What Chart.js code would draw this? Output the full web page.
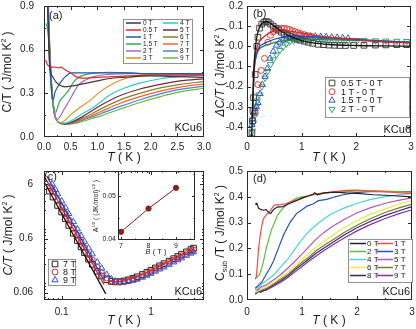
<!DOCTYPE html>
<html>
<head>
<meta charset="utf-8">
<script src="https://cdn.jsdelivr.net/npm/chart.js@4.4.0/dist/chart.umd.min.js"></script>
<style>
  html, body { margin: 0; padding: 0; background: #fff; }
  #wrap { position: relative; width: 416px; height: 329px; overflow: hidden; }
  canvas { position: absolute; }
</style>
</head>
<body>
<div id="wrap">
  <canvas id="pa" width="216" height="165" style="left:0;top:0"></canvas>
  <canvas id="pb" width="208" height="165" style="left:208px;top:0"></canvas>
  <canvas id="pc" width="216" height="164" style="left:0;top:165px"></canvas>
  <canvas id="pd" width="208" height="164" style="left:208px;top:165px"></canvas>
  <canvas id="pin" width="112" height="92" style="left:88px;top:166px"></canvas>
</div>
<script>
// ---- panel (a): C/T vs T, fields 0..9 T ----
const fieldsA = ['0 T', '0.5 T', '1 T', '1.5 T', '2 T', '3 T', '4 T', '5 T', '6 T', '7 T', '8 T', '9 T'];
const colorsA = ['#3a3a3a', '#e8262a', '#2456b8', '#2fa85a', '#a366cc', '#d9951f', '#2ec7c7', '#6e2a3e', '#8a7d2a', '#ff6030', '#4a84d0', '#6ab83a'];
const a0T = [[0.06,1.0],[0.08,0.75],[0.1,0.52],[0.13,0.44],[0.17,0.41],[0.22,0.38],[0.3,0.355],[0.4,0.345],[0.5,0.35],[0.6,0.355],[0.8,0.37],[1.0,0.385],[1.2,0.4],[1.5,0.41],[2.0,0.42],[2.5,0.415],[3.0,0.41]];
const a05T = [[0.03,0.53],[0.06,0.5],[0.1,0.485],[0.15,0.48],[0.2,0.48],[0.27,0.475],[0.32,0.48],[0.38,0.465],[0.45,0.45],[0.5,0.44],[0.6,0.415],[0.7,0.405],[0.8,0.405],[1.0,0.41],[1.3,0.415],[1.6,0.42],[2.0,0.425],[2.5,0.425],[3.0,0.425]];
const a1T = [[0.07,0.95],[0.1,0.6],[0.13,0.38],[0.16,0.27],[0.18,0.26],[0.2,0.3],[0.25,0.34],[0.3,0.37],[0.35,0.395],[0.4,0.415],[0.45,0.43],[0.5,0.44],[0.7,0.44],[1.0,0.44],[1.5,0.44],[2.0,0.435],[2.5,0.435],[3.0,0.435]];
const a15T = [[0.04,0.78],[0.08,0.7],[0.1,0.55],[0.13,0.35],[0.17,0.22],[0.22,0.17],[0.26,0.21],[0.3,0.25],[0.36,0.275],[0.46,0.32],[0.55,0.375],[0.65,0.41],[0.8,0.43],[1.0,0.44],[1.2,0.445],[1.6,0.44],[2.0,0.435],[2.5,0.435],[3.0,0.435]];
const a2T = [[0.06,1.0],[0.1,0.6],[0.15,0.3],[0.2,0.15],[0.25,0.12],[0.3,0.14],[0.36,0.18],[0.46,0.24],[0.55,0.3],[0.64,0.355],[0.77,0.39],[0.93,0.415],[1.2,0.43],[1.6,0.435],[2.0,0.435],[2.5,0.43],[3.0,0.43]];
const a3T = [[0.06,1.0],[0.1,0.6],[0.15,0.3],[0.2,0.15],[0.25,0.11],[0.3,0.1],[0.36,0.105],[0.49,0.15],[0.68,0.205],[0.86,0.25],[1.05,0.31],[1.24,0.355],[1.43,0.39],[1.68,0.415],[2.0,0.43],[2.5,0.435],[3.0,0.435]];
const a4T = [[0.06,1.05],[0.1,0.62],[0.15,0.3],[0.2,0.15],[0.25,0.11],[0.3,0.095],[0.4,0.095],[0.5,0.11],[0.7,0.155],[0.93,0.205],[1.24,0.29],[1.43,0.325],[1.8,0.37],[2.18,0.4],[2.55,0.415],[3.0,0.425]];
const a5T = [[0.06,1.05],[0.1,0.62],[0.15,0.3],[0.2,0.15],[0.25,0.11],[0.3,0.095],[0.4,0.09],[0.5,0.1],[0.7,0.135],[0.9,0.18],[1.05,0.215],[1.43,0.285],[1.8,0.33],[2.18,0.362],[2.55,0.385],[3.0,0.4]];
const a6T = [[0.06,1.1],[0.1,0.65],[0.15,0.31],[0.2,0.155],[0.25,0.11],[0.3,0.095],[0.4,0.09],[0.5,0.095],[0.7,0.125],[0.9,0.16],[1.05,0.19],[1.43,0.255],[1.8,0.3],[2.18,0.337],[2.55,0.362],[3.0,0.38]];
const a7T = [[0.06,1.1],[0.1,0.66],[0.15,0.31],[0.2,0.155],[0.25,0.11],[0.3,0.095],[0.4,0.09],[0.5,0.093],[0.7,0.118],[0.9,0.148],[1.05,0.172],[1.43,0.232],[1.8,0.277],[2.18,0.315],[2.55,0.343],[3.0,0.365]];
const a8T = [[0.06,1.15],[0.1,0.68],[0.15,0.32],[0.2,0.16],[0.25,0.11],[0.3,0.095],[0.4,0.09],[0.5,0.092],[0.7,0.112],[0.9,0.138],[1.05,0.158],[1.43,0.21],[1.8,0.256],[2.18,0.296],[2.55,0.327],[3.0,0.35]];
const a9T = [[0.06,1.2],[0.1,0.7],[0.15,0.33],[0.2,0.16],[0.25,0.11],[0.3,0.095],[0.4,0.09],[0.5,0.09],[0.7,0.105],[0.9,0.127],[1.05,0.143],[1.43,0.192],[1.8,0.237],[2.18,0.277],[2.55,0.31],[3.0,0.335]];
const curvesA = [a0T, a05T, a1T, a15T, a2T, a3T, a4T, a5T, a6T, a7T, a8T, a9T];
const xTicksA = [0, 0.5, 1, 1.5, 2, 2.5, 3];
const yTicksA = [0, 0.3, 0.6, 0.9];

// ---- panel (b): difference curves, symbols = data, lines = fits ----
const labelsB = ['0.5 T - 0 T', '1 T - 0 T', '1.5 T - 0 T', '2 T - 0 T'];
const b05 = [[0.09,-0.43],[0.1,-0.37],[0.11,-0.32],[0.12,-0.255],[0.15,-0.14],[0.18,0.0],[0.2,0.045],[0.23,0.09],[0.27,0.11],[0.31,0.12],[0.35,0.123],[0.39,0.12],[0.43,0.11],[0.48,0.1],[0.53,0.09],[0.58,0.08],[0.63,0.07],[0.68,0.062],[0.74,0.055],[0.8,0.048],[0.86,0.04],[0.92,0.035],[0.98,0.03],[1.05,0.025],[1.12,0.02],[1.2,0.015],[1.3,0.01],[1.4,0.008],[1.5,0.006],[1.6,0.005],[1.7,0.004],[1.8,0.004],[1.95,0.004],[2.14,0.005],[2.35,0.006],[2.54,0.007],[2.74,0.008],[2.92,0.008]];
const b1 = [[0.15,-0.33],[0.2,-0.19],[0.26,-0.12],[0.32,-0.06],[0.38,0.02],[0.43,0.055],[0.48,0.072],[0.53,0.082],[0.58,0.088],[0.63,0.09],[0.68,0.089],[0.73,0.087],[0.78,0.083],[0.83,0.078],[0.88,0.073],[0.93,0.068],[0.98,0.063],[1.04,0.058],[1.1,0.054],[1.17,0.05]];
const b15 = [[0.08,-0.45],[0.09,-0.39],[0.1,-0.36],[0.12,-0.33],[0.15,-0.31],[0.17,-0.3],[0.2,-0.28],[0.24,-0.235],[0.28,-0.19],[0.33,-0.15],[0.37,-0.11],[0.42,-0.06],[0.48,-0.025],[0.54,0.005],[0.6,0.02],[0.66,0.03],[0.72,0.038],[0.78,0.043],[0.85,0.046],[0.92,0.048],[1.0,0.05],[1.08,0.05],[1.16,0.05],[1.25,0.05],[1.35,0.048],[1.45,0.047],[1.55,0.045],[1.65,0.044],[1.75,0.042],[1.85,0.04]];
const b2 = [[0.1,-0.42],[0.12,-0.38],[0.15,-0.34],[0.17,-0.3],[0.19,-0.27],[0.22,-0.24],[0.27,-0.2],[0.33,-0.157],[0.38,-0.124],[0.43,-0.09],[0.48,-0.066],[0.54,-0.042],[0.6,-0.02],[0.66,-0.003],[0.72,0.012],[0.78,0.022],[0.85,0.028],[0.92,0.032],[1.0,0.034],[1.1,0.035],[1.2,0.035],[1.3,0.034],[1.4,0.033],[1.5,0.032],[1.6,0.031],[1.7,0.03],[1.8,0.03],[1.9,0.03],[2.02,0.03],[2.14,0.03],[2.35,0.028],[2.54,0.027],[2.74,0.026],[2.92,0.025]];
const fit05 = [[0.085,-0.45],[0.1,-0.3],[0.12,-0.15],[0.14,-0.05],[0.17,0.03],[0.2,0.07],[0.25,0.105],[0.3,0.12],[0.35,0.123],[0.4,0.118],[0.5,0.1],[0.6,0.08],[0.7,0.062],[0.8,0.048],[0.9,0.037],[1.0,0.028],[1.2,0.017],[1.5,0.009],[2.0,0.004],[2.5,0.002],[3.0,0.001]];
const fit1 = [[0.1,-0.35],[0.13,-0.1],[0.17,-0.02],[0.22,0.02],[0.3,0.045],[0.4,0.065],[0.5,0.078],[0.6,0.082],[0.7,0.08],[0.8,0.075],[1.0,0.065],[1.2,0.055],[1.5,0.045],[2.0,0.032],[2.5,0.022],[3.0,0.016]];
const fit15 = [[0.1,-0.35],[0.13,-0.12],[0.17,-0.04],[0.22,-0.005],[0.3,0.012],[0.4,0.025],[0.5,0.035],[0.6,0.042],[0.7,0.047],[0.85,0.05],[1.0,0.05],[1.2,0.048],[1.5,0.043],[2.0,0.035],[2.5,0.027],[3.0,0.02]];
const fit2 = [[0.1,-0.35],[0.13,-0.13],[0.17,-0.05],[0.22,-0.015],[0.3,0.0],[0.4,0.01],[0.5,0.018],[0.6,0.024],[0.7,0.028],[0.85,0.031],[1.0,0.033],[1.3,0.033],[1.6,0.032],[2.0,0.03],[2.5,0.025],[3.0,0.02]];
const xTicksB = [0, 1, 2, 3];
const yTicksB = [-0.4, -0.3, -0.2, -0.1, 0, 0.1, 0.2];

// ---- panel (c): log-log, 7/8/9 T ----
const c7T = [[0.073,4.5],[0.08,3.5],[0.09,2.45],[0.1,1.85],[0.11,1.4],[0.12,1.05],[0.135,0.75],[0.15,0.55],[0.165,0.42],[0.18,0.33],[0.2,0.25],[0.22,0.2],[0.25,0.15],[0.28,0.122],[0.32,0.104],[0.36,0.097],[0.4,0.095],[0.45,0.096],[0.5,0.099],[0.56,0.104],[0.63,0.111],[0.7,0.118],[0.8,0.13],[0.9,0.143],[1.0,0.156],[1.12,0.172],[1.25,0.188],[1.4,0.206],[1.6,0.23],[1.8,0.255],[2.0,0.28],[2.2,0.305],[2.5,0.34],[2.8,0.375],[3.0,0.4]];
const c8T = [[0.075,5.3],[0.08,4.4],[0.09,3.05],[0.1,2.25],[0.11,1.72],[0.12,1.32],[0.135,0.93],[0.15,0.69],[0.165,0.52],[0.18,0.41],[0.2,0.305],[0.22,0.24],[0.25,0.175],[0.28,0.14],[0.32,0.112],[0.36,0.1],[0.4,0.095],[0.45,0.094],[0.5,0.096],[0.56,0.1],[0.63,0.106],[0.7,0.112],[0.8,0.123],[0.9,0.135],[1.0,0.147],[1.12,0.162],[1.25,0.177],[1.4,0.194],[1.6,0.217],[1.8,0.24],[2.0,0.263],[2.2,0.286],[2.5,0.318],[2.8,0.35],[3.0,0.37]];
const c9T = [[0.078,6.1],[0.085,4.8],[0.09,4.0],[0.1,2.95],[0.11,2.25],[0.12,1.72],[0.135,1.22],[0.15,0.9],[0.165,0.68],[0.18,0.53],[0.2,0.4],[0.22,0.31],[0.25,0.22],[0.28,0.17],[0.32,0.13],[0.36,0.108],[0.4,0.098],[0.45,0.094],[0.5,0.094],[0.56,0.097],[0.63,0.101],[0.7,0.106],[0.8,0.115],[0.9,0.125],[1.0,0.136],[1.12,0.149],[1.25,0.163],[1.4,0.178],[1.6,0.199],[1.8,0.22],[2.0,0.241],[2.2,0.262],[2.5,0.292],[2.8,0.32],[3.0,0.34]];
const c7Fit = [[0.065,6.3],[0.312,0.057]];
const c8Fit = [[0.066,7.7],[0.297,0.085]];
const c9Fit = [[0.068,8.6],[0.29,0.11]];
const c8High = [[0.33,0.1],[0.4,0.095],[0.5,0.099],[0.7,0.118],[1.0,0.155],[1.4,0.205],[2.0,0.275],[2.5,0.33],[3.0,0.38]];
const xTicksC = [0.1, 1];
const yTicksC = [0.06, 0.6, 6];

// ---- inset of (c): A^1/2 vs B ----
const insetB = [7, 8, 9];
const insetA = [0.0417, 0.0471, 0.0519];

// ---- panel (d): C_sub/T vs T ----
const fieldsD = ['0 T', '1 T', '2 T', '3 T', '4 T', '5 T', '6 T', '7 T', '8 T', '9 T'];
const colorsD = ['#222222', '#ff4848', '#5cbf3a', '#2450b8', '#4fd0e0', '#b455c0', '#efe846', '#7f7a2a', '#2c2c6e', '#8a2f9e'];
const d0T = [[0.15,0.37],[0.18,0.375],[0.21,0.355],[0.26,0.35],[0.3,0.348],[0.35,0.35],[0.4,0.338],[0.43,0.335],[0.48,0.35],[0.55,0.36],[0.65,0.362],[0.78,0.375],[0.9,0.385],[1.0,0.395],[1.1,0.402],[1.2,0.41],[1.23,0.416],[1.28,0.408],[1.4,0.415],[1.6,0.418],[1.8,0.415],[2.0,0.413],[2.3,0.408],[2.6,0.405],[3.0,0.4]];
const d1T = [[0.15,0.08],[0.17,0.09],[0.19,0.14],[0.21,0.2],[0.24,0.25],[0.27,0.29],[0.3,0.315],[0.35,0.33],[0.4,0.34],[0.45,0.355],[0.5,0.368],[0.6,0.37],[0.7,0.373],[0.85,0.385],[1.0,0.395],[1.2,0.41],[1.4,0.415],[1.6,0.42],[1.8,0.425],[2.0,0.426],[2.2,0.423],[2.5,0.42],[2.8,0.415],[3.0,0.412]];
const d2T = [[0.15,0.085],[0.19,0.09],[0.23,0.1],[0.29,0.14],[0.35,0.2],[0.44,0.27],[0.5,0.3],[0.56,0.33],[0.65,0.355],[0.75,0.375],[0.9,0.395],[1.0,0.4],[1.15,0.405],[1.3,0.41],[1.5,0.416],[1.8,0.42],[2.1,0.424],[2.5,0.422],[3.0,0.418]];
const d3T = [[0.15,0.045],[0.2,0.055],[0.27,0.07],[0.35,0.1],[0.42,0.125],[0.48,0.15],[0.57,0.2],[0.66,0.25],[0.78,0.3],[0.9,0.335],[1.0,0.35],[1.1,0.365],[1.2,0.372],[1.3,0.385],[1.45,0.39],[1.6,0.4],[1.75,0.408],[1.95,0.415],[2.2,0.42],[2.6,0.42],[3.0,0.42]];
const d4T = [[0.15,0.05],[0.2,0.045],[0.25,0.06],[0.35,0.075],[0.5,0.1],[0.62,0.13],[0.75,0.16],[0.88,0.2],[1.0,0.235],[1.12,0.265],[1.25,0.29],[1.4,0.315],[1.55,0.335],[1.75,0.355],[2.0,0.375],[2.25,0.39],[2.5,0.4],[2.75,0.408],[3.0,0.412]];
const d5T = [[0.15,0.04],[0.2,0.038],[0.25,0.05],[0.35,0.058],[0.5,0.08],[0.62,0.1],[0.75,0.125],[0.88,0.152],[1.0,0.178],[1.12,0.205],[1.25,0.235],[1.4,0.262],[1.55,0.285],[1.75,0.31],[2.0,0.338],[2.25,0.358],[2.5,0.374],[2.75,0.386],[3.0,0.396]];
const d6T = [[0.15,0.03],[0.2,0.035],[0.25,0.042],[0.35,0.05],[0.5,0.07],[0.62,0.088],[0.75,0.11],[0.88,0.135],[1.0,0.158],[1.12,0.18],[1.25,0.205],[1.4,0.228],[1.55,0.25],[1.75,0.278],[2.0,0.308],[2.25,0.333],[2.5,0.352],[2.75,0.37],[3.0,0.386]];
const d7T = [[0.15,0.028],[0.2,0.03],[0.25,0.038],[0.35,0.045],[0.5,0.065],[0.62,0.082],[0.75,0.1],[0.88,0.125],[1.0,0.146],[1.12,0.166],[1.25,0.19],[1.4,0.212],[1.55,0.232],[1.75,0.26],[2.0,0.29],[2.25,0.316],[2.5,0.338],[2.75,0.356],[3.0,0.372]];
const d8T = [[0.15,0.025],[0.2,0.035],[0.25,0.03],[0.35,0.042],[0.5,0.06],[0.62,0.076],[0.75,0.095],[0.88,0.118],[1.0,0.138],[1.12,0.158],[1.25,0.18],[1.4,0.202],[1.55,0.222],[1.75,0.25],[2.0,0.28],[2.25,0.305],[2.5,0.327],[2.75,0.345],[3.0,0.362]];
const d9T = [[0.15,0.022],[0.2,0.03],[0.25,0.035],[0.35,0.038],[0.5,0.055],[0.62,0.07],[0.75,0.088],[0.88,0.11],[1.0,0.13],[1.12,0.15],[1.25,0.17],[1.4,0.192],[1.55,0.212],[1.75,0.238],[2.0,0.268],[2.25,0.293],[2.5,0.315],[2.75,0.334],[3.0,0.35]];
const curvesD = [d0T, d1T, d2T, d3T, d4T, d5T, d6T, d7T, d8T, d9T];
const xTicksD = [0, 1, 2, 3];
const yTicksD = [0, 0.1, 0.2, 0.3, 0.4, 0.5];

// ---------------------------------------------------------------
const FONT = "'Liberation Sans', Arial, sans-serif";
Chart.defaults.font.family = FONT;
Chart.defaults.font.size = 10;
Chart.defaults.color = '#222';

const xy = arr => arr.map(([x, y]) => ({ x, y }));

function lineSet(label, data, color, width, smooth) {
  return {
    label, data: xy(data), borderColor: color, backgroundColor: color,
    borderWidth: width || 1.2, pointRadius: 0, showLine: true, clip: 0,
    cubicInterpolationMode: smooth ? 'monotone' : 'default', tension: 0
  };
}
function markSet(label, data, color, style, r, rot) {
  return {
    label, data: xy(data), borderColor: color, backgroundColor: 'rgba(0,0,0,0)',
    pointStyle: style, pointRadius: r, pointRotation: rot || 0, pointBorderWidth: 1, showLine: false
  };
}

function drawRich(ctx, parts, x, y, o) {
  const size = o.size || 12;
  const fontOf = p => (p.it ? 'italic ' : '') + ((p.sup || p.sub) ? Math.round(size * 0.62) : size) + 'px ' + FONT;
  ctx.save();
  ctx.translate(x, y);
  if (o.rot) ctx.rotate(-Math.PI / 2);
  let w = 0;
  parts.forEach(p => { ctx.font = fontOf(p); w += ctx.measureText(p.t).width; });
  let cx = o.align === 'left' ? 0 : o.align === 'right' ? -w : -w / 2;
  ctx.textBaseline = 'middle';
  ctx.fillStyle = '#1a1a1a';
  parts.forEach(p => {
    ctx.font = fontOf(p);
    const dy = p.sup ? -size * 0.35 : p.sub ? size * 0.3 : 0;
    ctx.fillText(p.t, cx, dy);
    cx += ctx.measureText(p.t).width;
  });
  ctx.restore();
}

// frame + inward ticks on all four sides
function frame(minorX, minorY, len) {
  return {
    id: 'frame',
    afterDatasetsDraw(chart) {
      const { ctx, chartArea: a, scales: { x, y } } = chart;
      ctx.save();
      ctx.strokeStyle = '#2a2a2a';
      ctx.lineWidth = 1;
      ctx.strokeRect(Math.round(a.left) + 0.5, Math.round(a.top) + 0.5, Math.round(a.width) - 1, Math.round(a.height) - 1);
      const tick = (s, v, l) => {
        const p = Math.round(s.getPixelForValue(v)) + 0.5;
        ctx.beginPath();
        if (s.isHorizontal()) {
          if (p < a.left || p > a.right) return;
          ctx.moveTo(p, a.bottom); ctx.lineTo(p, a.bottom - l);
          ctx.moveTo(p, a.top); ctx.lineTo(p, a.top + l);
        } else {
          if (p < a.top || p > a.bottom) return;
          ctx.moveTo(a.left, p); ctx.lineTo(a.left + l, p);
          ctx.moveTo(a.right, p); ctx.lineTo(a.right - l, p);
        }
        ctx.stroke();
      };
      x.ticks.forEach(t => tick(x, t.value, len));
      y.ticks.forEach(t => tick(y, t.value, len));
      minorX.forEach(v => tick(x, v, len / 2));
      minorY.forEach(v => tick(y, v, len / 2));
      ctx.restore();
    }
  };
}

function notes(items) {
  return {
    id: 'notes',
    afterDraw(chart) {
      items.forEach(it => drawRich(chart.ctx, typeof it.parts === 'string' ? [{ t: it.parts }] : it.parts, it.x, it.y, it));
    }
  };
}

function legendBox(o) {
  return {
    id: 'legendBox',
    afterDraw(chart) {
      const ctx = chart.ctx;
      ctx.save();
      ctx.fillStyle = '#fff';
      ctx.fillRect(o.x, o.y, o.w, o.h);
      ctx.lineWidth = 0.8;
      ctx.strokeStyle = '#777';
      ctx.strokeRect(o.x + 0.5, o.y + 0.5, o.w, o.h);
      ctx.font = o.size + 'px ' + FONT;
      ctx.textBaseline = 'middle';
      o.items.forEach((idx, i) => {
        const col = o.byRow ? i % o.cols : Math.floor(i / o.rows);
        const row = o.byRow ? Math.floor(i / o.cols) : i % o.rows;
        const x0 = o.x + o.padX + col * o.colW;
        const y0 = o.y + o.padY + row * o.rowH;
        const ds = chart.data.datasets[idx];
        ctx.strokeStyle = ds.borderColor;
        if (o.marker) {
          ctx.fillStyle = 'rgba(0,0,0,0)';
          ctx.lineWidth = 1;
          Chart.helpers.drawPoint(ctx, { pointStyle: ds.pointStyle, radius: ds.pointRadius, rotation: ds.pointRotation || 0, borderWidth: 1 }, x0 + o.sample / 2, y0);
        } else {
          ctx.lineWidth = 1.5;
          ctx.beginPath(); ctx.moveTo(x0, y0); ctx.lineTo(x0 + o.sample, y0); ctx.stroke();
        }
        ctx.fillStyle = '#1a1a1a';
        ctx.fillText(ds.label, x0 + o.sample + o.gap, y0 + 0.5);
      });
      ctx.restore();
    }
  };
}

function axis(type, min, max, ticks, fmt, fit, pad, horiz, size) {
  return {
    type, min, max,
    grid: { display: false, drawTicks: false },
    border: { display: false },
    ticks: { autoSkip: false, maxRotation: 0, padding: pad, callback: fmt, color: '#222', font: { size: size || 10 } },
    afterBuildTicks: s => { s.ticks = ticks.map(v => ({ value: v })); },
    afterFit: s => {
      if (horiz) { s.height = fit; s.paddingLeft = 0; s.paddingRight = 0; }
      else { s.width = fit; s.paddingTop = 0; s.paddingBottom = 0; }
    }
  };
}

function base(scales, padding) {
  return {
    responsive: false, animation: false, events: [], devicePixelRatio: 1,
    layout: { padding },
    plugins: { legend: { display: false }, tooltip: { enabled: false } },
    scales
  };
}

const f1 = v => v.toFixed(1);
const f0 = v => String(v);

const yTitleA = [{ t: 'C/T ( J/mol K' }, { t: '2', sup: true }, { t: ' )' }];
const yTitleB = [{ t: 'ΔC/T', it: true }, { t: ' ( J/mol K' }, { t: '2', sup: true }, { t: ' )' }];
const yTitleC = [{ t: 'C/T', it: true }, { t: ' ( J/mol K' }, { t: '2', sup: true }, { t: ' )' }];
const yTitleD = [{ t: 'C' }, { t: 'sub', sub: true }, { t: ' /T ( J/mol K' }, { t: '2', sup: true }, { t: ' )' }];
const xTitle = [{ t: 'T', it: true }, { t: ' ( K )' }];

// ---- (a) ----
new Chart(document.getElementById('pa'), {
  type: 'scatter',
  data: { datasets: curvesA.map((c, i) => lineSet(fieldsA[i], c, colorsA[i], 1.2, true)) },
  options: base({
    x: axis('linear', 0, 3, xTicksA, f1, 28, 4, true),
    y: axis('linear', 0, 0.9, yTicksA, f1, 44, 10, false)
  }, { left: 0, right: 12, top: 6, bottom: 0 }),
  plugins: [
    frame([0.25, 0.75, 1.25, 1.75, 2.25, 2.75], [0.15, 0.45, 0.75], 4),
    legendBox({ x: 123, y: 19, w: 69, h: 44, items: [0,1,2,3,4,5,6,7,8,9,10,11], rows: 6, rowH: 7, padX: 3, padY: 4, colW: 37, sample: 15, gap: 2, size: 6.5 }),
    notes([
      { parts: yTitleA, x: 8, y: 72, rot: true, size: 12 },
      { parts: xTitle, x: 124, y: 158, size: 12 },
      { parts: '(a)', x: 49, y: 16, align: 'left', size: 11 },
      { parts: 'KCu6', x: 202, y: 128, align: 'right', size: 11 }
    ])
  ]
});

// ---- (b) ----
const colB = ['#444444', '#e83a3a', '#2f5cc8', '#3aa870'];
new Chart(document.getElementById('pb'), {
  type: 'scatter',
  data: {
    datasets: [
      lineSet('fit 0.5 T', fit05, '#111111', 1.3, true),
      lineSet('fit 1 T', fit1, '#e02020', 1.3, true),
      lineSet('fit 1.5 T', fit15, '#1f4fc0', 1.3, true),
      lineSet('fit 2 T', fit2, '#208a48', 1.3, true),
      markSet(labelsB[0], b05, colB[0], 'rect', 4),
      markSet(labelsB[1], b1, colB[1], 'circle', 3),
      markSet(labelsB[2], b15, colB[2], 'triangle', 3.6),
      markSet(labelsB[3], b2, colB[3], 'triangle', 3.6, 180)
    ]
  },
  options: base({
    x: axis('linear', 0, 3, xTicksB, f0, 28, 4, true),
    y: axis('linear', -0.45, 0.2, yTicksB, f1, 39, 4, false)
  }, { left: 0, right: 4, top: 6, bottom: 0 }),
  plugins: [
    frame([0.5, 1.5, 2.5], [], 4),
    legendBox({ x: 117, y: 77, w: 84, h: 40, items: [4, 5, 6, 7], rows: 4, rowH: 8.7, padX: 3, padY: 6, colW: 0, sample: 8, gap: 5, size: 9, marker: true }),
    notes([
      { parts: yTitleB, x: 13, y: 72, rot: true, size: 12 },
      { parts: xTitle, x: 121, y: 158, size: 12 },
      { parts: '(b)', x: 45, y: 14, align: 'left', size: 11 },
      { parts: 'KCu6', x: 203, y: 130, align: 'right', size: 11 }
    ])
  ]
});

// ---- (c) ----
new Chart(document.getElementById('pc'), {
  type: 'scatter',
  data: {
    datasets: [
      lineSet('fit 7 T', c7Fit, '#111111', 1.3),
      lineSet('fit 8 T', c8Fit, '#e02020', 1.3),
      lineSet('fit 9 T', c9Fit, '#2040d0', 1.3),
      lineSet('8 T high', c8High, '#e02020', 1.2, true),
      markSet('9 T', c9T, '#2f50d0', 'triangle', 3.6),
      markSet('8 T', c8T, '#e83030', 'circle', 3),
      markSet('7 T', c7T, '#222222', 'rect', 4)
    ]
  },
  options: base({
    x: axis('logarithmic', 0.0634, 3.93, xTicksC, f0, 29, 6, true),
    y: axis('logarithmic', 0.044, 10.6, yTicksC, f0, 44, 11, false)
  }, { left: 0, right: 12, top: 6, bottom: 0 }),
  plugins: [
    frame([0.07, 0.08, 0.09, 0.2, 0.3, 0.4, 0.5, 0.6, 0.7, 0.8, 0.9, 2, 3], [0.05, 0.07, 0.08, 0.09, 0.2, 0.3, 0.4, 0.5, 0.7, 0.8, 0.9, 2, 3, 4, 5, 7, 8, 9], 4),
    legendBox({ x: 48, y: 94, w: 27, h: 26, items: [6, 5, 4], rows: 3, rowH: 8, padX: 2, padY: 5, colW: 0, sample: 10, gap: 3, size: 9, marker: true }),
    notes([
      { parts: yTitleC, x: 9, y: 70, rot: true, size: 12 },
      { parts: xTitle, x: 124, y: 156, size: 12 },
      { parts: '(c)', x: 44, y: 12, align: 'left', size: 11 },
      { parts: 'KCu6', x: 202, y: 127, align: 'right', size: 11 }
    ])
  ]
});

// ---- inset of (c) ----
new Chart(document.getElementById('pin'), {
  type: 'scatter',
  data: {
    datasets: [{
      label: 'A1/2', data: insetB.map((b, i) => ({ x: b, y: insetA[i] })),
      showLine: true, borderColor: '#8b1e1e', backgroundColor: '#8b1e1e', borderWidth: 1,
      pointRadius: 2.6, pointStyle: 'circle'
    }]
  },
  options: base({
    x: axis('linear', 6.89, 9.69, [7, 8, 9], f0, 18, 2, true, 7),
    y: axis('linear', 0.0398, 0.0558, [0.04, 0.05], v => v.toFixed(2), 30, 2, false, 7)
  }, { left: 0, right: 5, top: 5, bottom: 0 }),
  plugins: [
    frame([7.5, 8.5, 9.5], [0.045, 0.055], 3),
    notes([
      { parts: [{ t: 'A' }, { t: '1/2', sup: true }, { t: ' ( (JK/mol)' }, { t: '1/2', sup: true }, { t: ' )' }], x: 8, y: 40, rot: true, size: 7 },
      { parts: [{ t: 'B', it: true }, { t: ' ( T )' }], x: 68, y: 86, size: 7.5 }
    ])
  ]
});

// ---- (d) ----
new Chart(document.getElementById('pd'), {
  type: 'scatter',
  data: { datasets: curvesD.map((c, i) => lineSet(fieldsD[i], c, colorsD[i], 1.2)) },
  options: base({
    x: axis('linear', 0, 3, xTicksD, f0, 29, 6, true),
    y: axis('linear', 0, 0.5, yTicksD, f1, 39, 4, false)
  }, { left: 0, right: 4, top: 6, bottom: 0 }),
  plugins: [
    frame([0.5, 1.5, 2.5], [], 4),
    legendBox({ x: 140, y: 74, w: 64, h: 43, items: [0,1,2,3,4,5,6,7,8,9], byRow: true, cols: 2, rowH: 8, padX: 2, padY: 4.5, colW: 27, sample: 16, gap: 1, size: 8 }),
    notes([
      { parts: yTitleD, x: 13, y: 68, rot: true, size: 12 },
      { parts: xTitle, x: 121, y: 156, size: 12 },
      { parts: '(d)', x: 45, y: 14, align: 'left', size: 11 },
      { parts: 'KCu6', x: 202, y: 127, align: 'right', size: 11 }
    ])
  ]
});
</script>
</body>
</html>
